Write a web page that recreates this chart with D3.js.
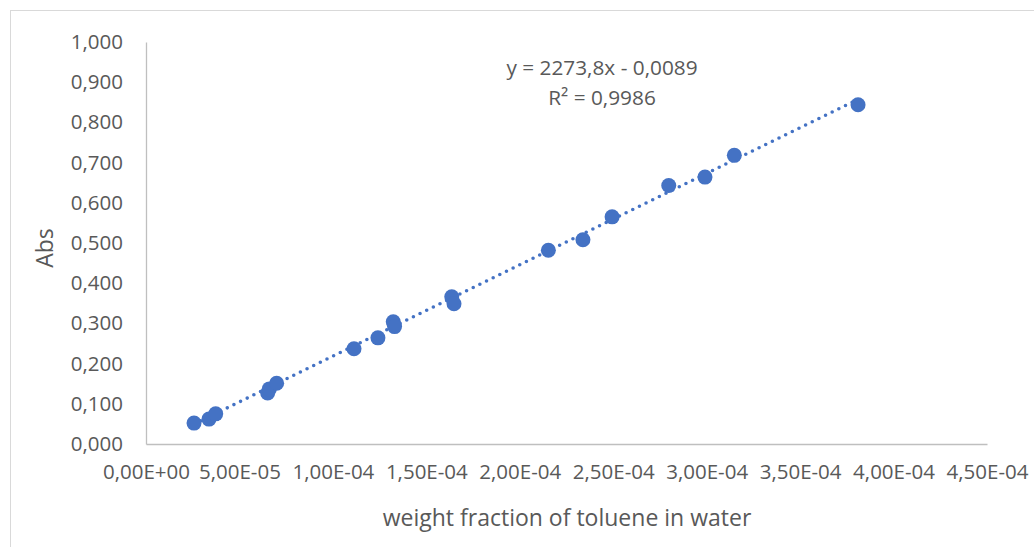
<!DOCTYPE html>
<html>
<head>
<meta charset="utf-8">
<script src="https://cdn.jsdelivr.net/npm/d3@7"></script>
<style>
  body { margin: 0; background: #fff; }
  text { font-family: "Open Sans", "Noto Sans", sans-serif; fill: #595959; }
</style>
</head>
<body>
<svg id="chart"></svg>
<script>
// weight fraction of toluene in water
const weightFraction = [2.57e-5, 3.37e-5, 3.73e-5, 6.51e-5, 6.6e-5, 6.99e-5, 1.113e-4, 1.241e-4,
    1.323e-4, 1.33e-4, 1.636e-4, 1.648e-4, 2.153e-4, 2.338e-4, 2.494e-4, 2.797e-4,
    2.991e-4, 3.148e-4, 3.810e-4];
// absorbance
const absorbance = [0.052, 0.062, 0.075, 0.127, 0.137, 0.151, 0.237, 0.264,
    0.304, 0.292, 0.366, 0.349, 0.482, 0.508, 0.565, 0.643,
    0.664, 0.718, 0.844];
const xTicks = [0, 5e-5, 1e-4, 1.5e-4, 2e-4, 2.5e-4, 3e-4, 3.5e-4, 4e-4, 4.5e-4];
const yTicks = [0, 0.1, 0.2, 0.3, 0.4, 0.5, 0.6, 0.7, 0.8, 0.9, 1.0];
const slope = 2273.8, intercept = -0.0089;
const equationLines = ['y = 2273,8x - 0,0089', 'R² = 0,9986'];

const width = 1034, height = 547;
const margin = {top: 42, right: 47, bottom: 103, left: 146};
const innerW = width - margin.left - margin.right;
const innerH = height - margin.top - margin.bottom;

const data = weightFraction.map((x, i) => ({x: x, y: absorbance[i]}));

const svg = d3.select('#chart')
    .attr('width', width)
    .attr('height', height);

svg.append('rect')
    .attr('width', width).attr('height', height)
    .attr('fill', '#fff');

// outer chart border
svg.append('rect')
    .attr('x', 10.5).attr('y', 10.5)
    .attr('width', width).attr('height', height)
    .attr('fill', 'none')
    .attr('stroke', '#d9d9d9');

const chart = svg.append('g')
    .attr('transform', `translate(${margin.left},${margin.top})`);

const xScale = d3.scaleLinear().domain([0, 4.5e-4]).range([0, innerW]);
const yScale = d3.scaleLinear().domain([0, 1]).range([innerH, 0]);

const yFmt = v => d3.format('.3f')(v).replace('.', ',');
const xFmt = (v) => {
    let s = v.toExponential(2).replace('.', ',');
    s = s.replace(/e([+-])(\d)$/, 'E$10$2').replace(/e([+-])(\d\d)$/, 'E$1$2');
    return s;
};

const tickFont = 20.5;

const xAxis = d3.axisBottom(xScale)
    .tickValues(xTicks)
    .tickFormat(xFmt)
    .tickSize(0)
    .tickPadding(20);

const yAxis = d3.axisLeft(yScale)
    .tickValues(yTicks)
    .tickFormat(yFmt)
    .tickSize(0)
    .tickPadding(23);

const xAxisG = chart.append('g')
    .attr('transform', `translate(0,${innerH})`)
    .call(xAxis);
xAxisG.select('.domain').attr('stroke', '#bfbfbf').attr('stroke-width', 1.3);
xAxisG.selectAll('text').attr('font-size', tickFont).attr('fill', '#595959')
    .attr('font-family', '"Open Sans", sans-serif');

const yAxisG = chart.append('g')
    .call(yAxis);
yAxisG.select('.domain').attr('stroke', '#bfbfbf').attr('stroke-width', 1.3);
yAxisG.selectAll('text').attr('font-size', tickFont).attr('fill', '#595959')
    .attr('font-family', '"Open Sans", sans-serif');

// trendline (linear fit)
const xExt = d3.extent(weightFraction);
chart.append('line')
    .attr('x1', xScale(xExt[0])).attr('y1', yScale(slope * xExt[0] + intercept))
    .attr('x2', xScale(xExt[1])).attr('y2', yScale(slope * xExt[1] + intercept))
    .attr('stroke', '#4472c4')
    .attr('stroke-width', 3.6)
    .attr('stroke-linecap', 'round')
    .attr('stroke-dasharray', '0 7.4');

chart.selectAll('.point')
    .data(data)
    .join('circle')
    .attr('class', 'point')
    .attr('cx', d => xScale(d.x))
    .attr('cy', d => yScale(d.y))
    .attr('r', 7.5)
    .attr('fill', '#4472c4');

// equation label
const eq = chart.append('text')
    .attr('x', 456)
    .attr('y', 33)
    .attr('text-anchor', 'middle')
    .attr('font-size', 20.8);
eq.selectAll('tspan')
    .data(equationLines)
    .join('tspan')
    .attr('x', 456)
    .attr('dy', (d, i) => i === 0 ? 0 : 30)
    .text(d => d);

// axis titles
svg.append('text')
    .attr('x', 567)
    .attr('y', 526)
    .attr('text-anchor', 'middle')
    .attr('font-size', 23)
    .text('weight fraction of toluene in water');

svg.append('text')
    .attr('transform', `translate(53,${margin.top + innerH / 2 + 5}) rotate(-90)`)
    .attr('text-anchor', 'middle')
    .attr('font-size', 23)
    .text('Abs');
</script>
</body>
</html>
